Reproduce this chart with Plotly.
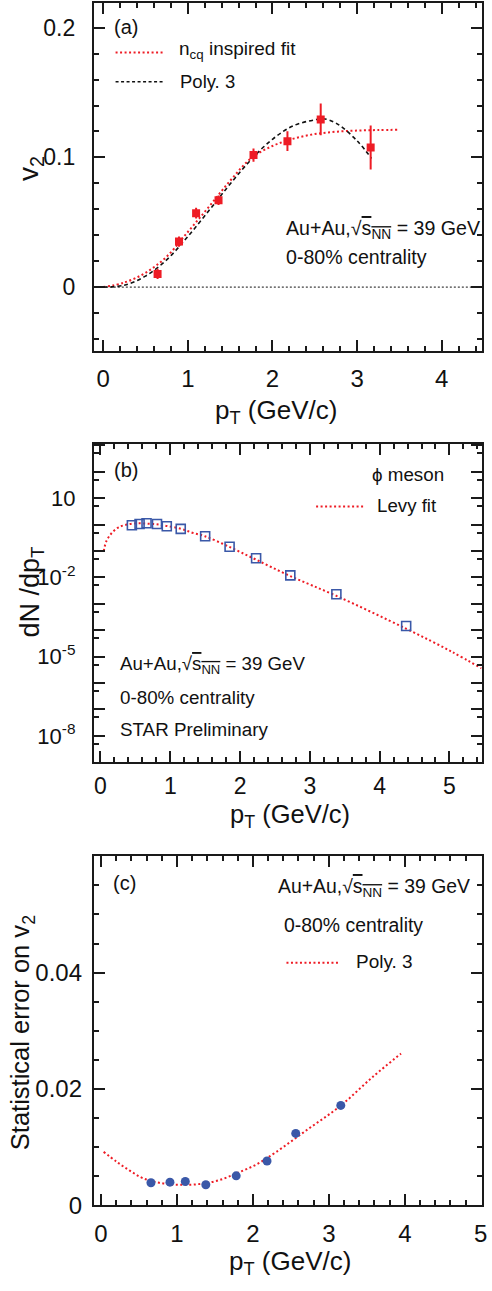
import plotly.graph_objects as go

W, H = 492, 1291
FONT = "Liberation Sans, Arial, Helvetica, sans-serif"
RED = "#ee1c25"
BLUE = "#3a58a8"
INK = "#1a1a1a"

# ---------------- Panel (a): v2 vs pT ----------------
a_pt = [0.643, 0.896, 1.098, 1.363, 1.776, 2.177, 2.570, 3.160]
a_v2 = [0.0102, 0.0351, 0.0570, 0.0670, 0.1018, 0.1125, 0.1293, 0.1076]
a_err = [0.0040, 0.0040, 0.0041, 0.0036, 0.0051, 0.0076, 0.0122, 0.0170]

a_ncq_pt = [0.0, 0.25, 0.5, 0.75, 1.0, 1.25, 1.5, 1.75, 2.0, 2.25, 2.5, 2.75, 3.0, 3.25, 3.5]
a_ncq_v2 = [0.0, 0.0035, 0.011, 0.0235, 0.0425, 0.062, 0.082, 0.0995, 0.1088, 0.1145, 0.118, 0.1198, 0.1207, 0.1211, 0.1213]

a_poly_pt = [0.0, 0.25, 0.5, 0.75, 1.0, 1.25, 1.5, 1.75, 2.0, 2.25, 2.5, 2.6, 2.75, 3.0, 3.17]
a_poly_v2 = [0.0, 0.0015, 0.0085, 0.021, 0.039, 0.059, 0.0795, 0.0985, 0.1140, 0.1245, 0.1290, 0.1298, 0.1265, 0.1128, 0.0992]

# ---------------- Panel (b): dN/dpT vs pT ----------------
b_pt = [0.45, 0.56, 0.66, 0.81, 0.95, 1.15, 1.50, 1.85, 2.23, 2.72, 3.38, 4.38]
b_dndpt = [0.94, 1.06, 1.12, 1.06, 0.87, 0.69, 0.363, 0.145, 0.0528, 0.0119, 0.00229, 0.000145]

b_levy_pt = [0.047, 0.085, 0.164, 0.259, 0.377, 0.518, 0.66, 0.80, 0.943, 1.156, 1.32, 1.496,
             1.84, 2.218, 2.72, 3.38, 4.377, 5.03, 5.46]
b_levy = [0.0995, 0.236, 0.488, 0.79, 1.0, 1.117, 1.086, 1.023, 0.891, 0.689, 0.488, 0.363,
          0.146, 0.0486, 0.0112, 0.0020, 0.000115, 1.55e-5, 3.6e-6]

# ---------------- Panel (c): statistical error on v2 ----------------
c_pt = [0.658, 0.908, 1.110, 1.380, 1.780, 2.186, 2.564, 3.157]
c_err = [0.00386, 0.00397, 0.00408, 0.00352, 0.00505, 0.0076, 0.01235, 0.01716]

c_poly_pt = [0.035, 0.206, 0.379, 0.551, 0.766, 1.024, 1.283, 1.54, 1.80, 2.057, 2.30, 2.72, 3.154, 3.58, 3.95]
c_poly = [0.00918, 0.00748, 0.00595, 0.00465, 0.00386, 0.00352, 0.00363, 0.00425, 0.00556,
          0.00709, 0.0091, 0.01303, 0.0171, 0.0221, 0.02607]

b_major_exp = list(range(-9, 4))
b_labels = {1: "10", -2: "10<sup>-2</sup>", -5: "10<sup>-5</sup>", -8: "10<sup>-8</sup>"}


def px(x):
    return x / W


def py(y):
    return 1 - y / H


fig = go.Figure()

DOT = "2px,2.5px"

# (a)
fig.add_trace(go.Scatter(x=a_ncq_pt, y=a_ncq_v2, mode="lines", line=dict(color=RED, width=2, dash=DOT, shape="spline"),
                         xaxis="x", yaxis="y", showlegend=False))
fig.add_trace(go.Scatter(x=a_poly_pt, y=a_poly_v2, mode="lines", line=dict(color="#111", width=1.6, dash="4px,3px", shape="spline"),
                         xaxis="x", yaxis="y", showlegend=False))
fig.add_trace(go.Scatter(x=a_pt, y=a_v2, mode="markers",
                         marker=dict(symbol="square", size=8, color=RED),
                         error_y=dict(type="data", array=a_err, color=RED, thickness=2, width=0),
                         xaxis="x", yaxis="y", showlegend=False))
# (b)
fig.add_trace(go.Scatter(x=b_levy_pt, y=b_levy, mode="lines", line=dict(color=RED, width=2, dash=DOT, shape="spline"),
                         xaxis="x2", yaxis="y2", showlegend=False))
fig.add_trace(go.Scatter(x=b_pt, y=b_dndpt, mode="markers",
                         marker=dict(symbol="square-open", size=9, color=BLUE, line=dict(width=1.6, color=BLUE)),
                         xaxis="x2", yaxis="y2", showlegend=False))
# (c)
fig.add_trace(go.Scatter(x=c_poly_pt, y=c_poly, mode="lines", line=dict(color=RED, width=2, dash=DOT, shape="spline"),
                         xaxis="x3", yaxis="y3", showlegend=False))
fig.add_trace(go.Scatter(x=c_pt, y=c_err, mode="markers",
                         marker=dict(symbol="circle", size=9, color=BLUE),
                         xaxis="x3", yaxis="y3", showlegend=False))


def axis(size=23, **kw):
    d = dict(showline=True, linecolor=INK, linewidth=2, mirror="allticks", ticks="inside",
             ticklen=11, tickwidth=1.5, tickcolor=INK, showgrid=False, zeroline=False,
             tickfont=dict(size=size, color="#111", family=FONT))
    d.update(kw)
    return d


def minor(**kw):
    d = dict(ticks="inside", ticklen=5, tickwidth=1.5, tickcolor=INK, showgrid=False)
    d.update(kw)
    return d


dom_x = [px(95), px(487.5)]
fig.update_layout(
    width=W, height=H, margin=dict(l=0, r=0, t=0, b=0),
    paper_bgcolor="white", plot_bgcolor="white",
    font=dict(family=FONT, color="#111"),
    xaxis=axis(24, domain=dom_x, anchor="y", range=[-0.11, 4.47], tickmode="array", tickvals=[0, 1, 2, 3, 4],
               minor=minor(dtick=0.2, tick0=0), ticklabelstandoff=5),
    yaxis=axis(23, domain=[py(355), py(3)], anchor="x", range=[-0.0496, 0.2191], tickmode="array",
               tickvals=[0, 0.1, 0.2], ticktext=["0", "0.1", "0.2"], minor=minor(dtick=0.02, tick0=0),
               ticklabelstandoff=12),
    xaxis2=axis(23, domain=dom_x, anchor="y2", range=[-0.095, 5.46], tickmode="array", tickvals=[0, 1, 2, 3, 4, 5],
                minor=minor(dtick=0.2, tick0=0), ticklabelstandoff=2),
    yaxis2=axis(22, domain=[py(770), py(448.3)], anchor="x2", type="log", range=[-9, 3.06], tickmode="array",
                tickvals=[10.0 ** k for k in b_major_exp],
                ticktext=[b_labels.get(k, "") for k in b_major_exp],
                minor=minor(tickmode="array", tickvals=[5 * 10.0 ** k for k in range(-10, 3)]),
                ticklabelstandoff=12),
    xaxis3=axis(24, domain=[px(95), px(487.5)], anchor="y3", range=[-0.094, 5.01], tickmode="array",
                tickvals=[0, 1, 2, 3, 4, 5], minor=minor(dtick=0.2, tick0=0), ticklabelstandoff=6,
                ticklabeloverflow="allow"),
    yaxis3=axis(24, domain=[py(1217.5), py(865)], anchor="x3", range=[0, 0.06], tickmode="array",
                tickvals=[0, 0.02, 0.04], ticktext=["0", "0.02", "0.04"], minor=minor(dtick=0.005, tick0=0),
                ticklabelstandoff=5),
)

# zero line in (a)
fig.add_shape(type="line", xref="x domain", yref="y", x0=0, x1=1, y0=0, y1=0,
              line=dict(color="#111", width=1, dash="2px,2px"), layer="below")


# legend samples
def sample(x0, x1, y, color, dash, width):
    fig.add_shape(type="line", xref="paper", yref="paper", x0=px(x0), x1=px(x1), y0=py(y), y1=py(y),
                  line=dict(color=color, width=width, dash=dash))


sample(117, 167, 53, RED, DOT, 2)
sample(117, 167, 82.5, "#111", "3px,2.5px", 1.5)
sample(320, 370, 511.7, RED, DOT, 2)
sample(290, 344, 972.5, RED, DOT, 2)

SQRT = "Au+Au,√<span style='text-decoration:overline'>s<sub>NN</sub></span> = 39 GeV"


def text(x, y, s, size=19, anchor="left", angle=0):
    fig.add_annotation(xref="paper", yref="paper", x=px(x), y=py(y), text=s, showarrow=False,
                       xanchor=anchor, yanchor="middle", textangle=angle,
                       font=dict(size=size, family=FONT, color="#111"))


# (a)
text(113, 27, "(a)", 20)
text(179, 51, "n<sub>cq</sub> inspired fit", 19)
text(180, 82, "Poly. 3", 18.5)
text(287, 232, SQRT, 19.6)
text(288, 260, "0-80% centrality", 19.6)
# (b)
text(113, 475, "(b)", 20)
text(375, 479, "ϕ meson", 18.8)
text(380, 511, "Levy fit", 18.7)
text(119, 672, SQRT, 18.7)
text(119, 705, "0-80% centrality", 18.8)
text(119, 737, "STAR Preliminary", 18.8)
# (c)
text(112, 892, "(c)", 20)
text(279, 897, SQRT, 19.4)
text(285, 934, "0-80% centrality", 19.4)
text(358, 971, "Poly. 3", 19)

# axis titles
text(279, 416, "p<sub>T</sub> (GeV/c)", 26, "center")
text(294, 824, "p<sub>T</sub> (GeV/c)", 25.5, "center")
text(294, 1275, "p<sub>T</sub> (GeV/c)", 26, "center")
text(31, 170, "v<sub>2</sub>", 28, "center", -90)
text(32, 598, "dN /dp<sub>T</sub>", 27, "center", -90)
text(23, 1043, "Statistical error on v<sub>2</sub>", 25.5, "center", -90)

fig.write_html("out.html")
